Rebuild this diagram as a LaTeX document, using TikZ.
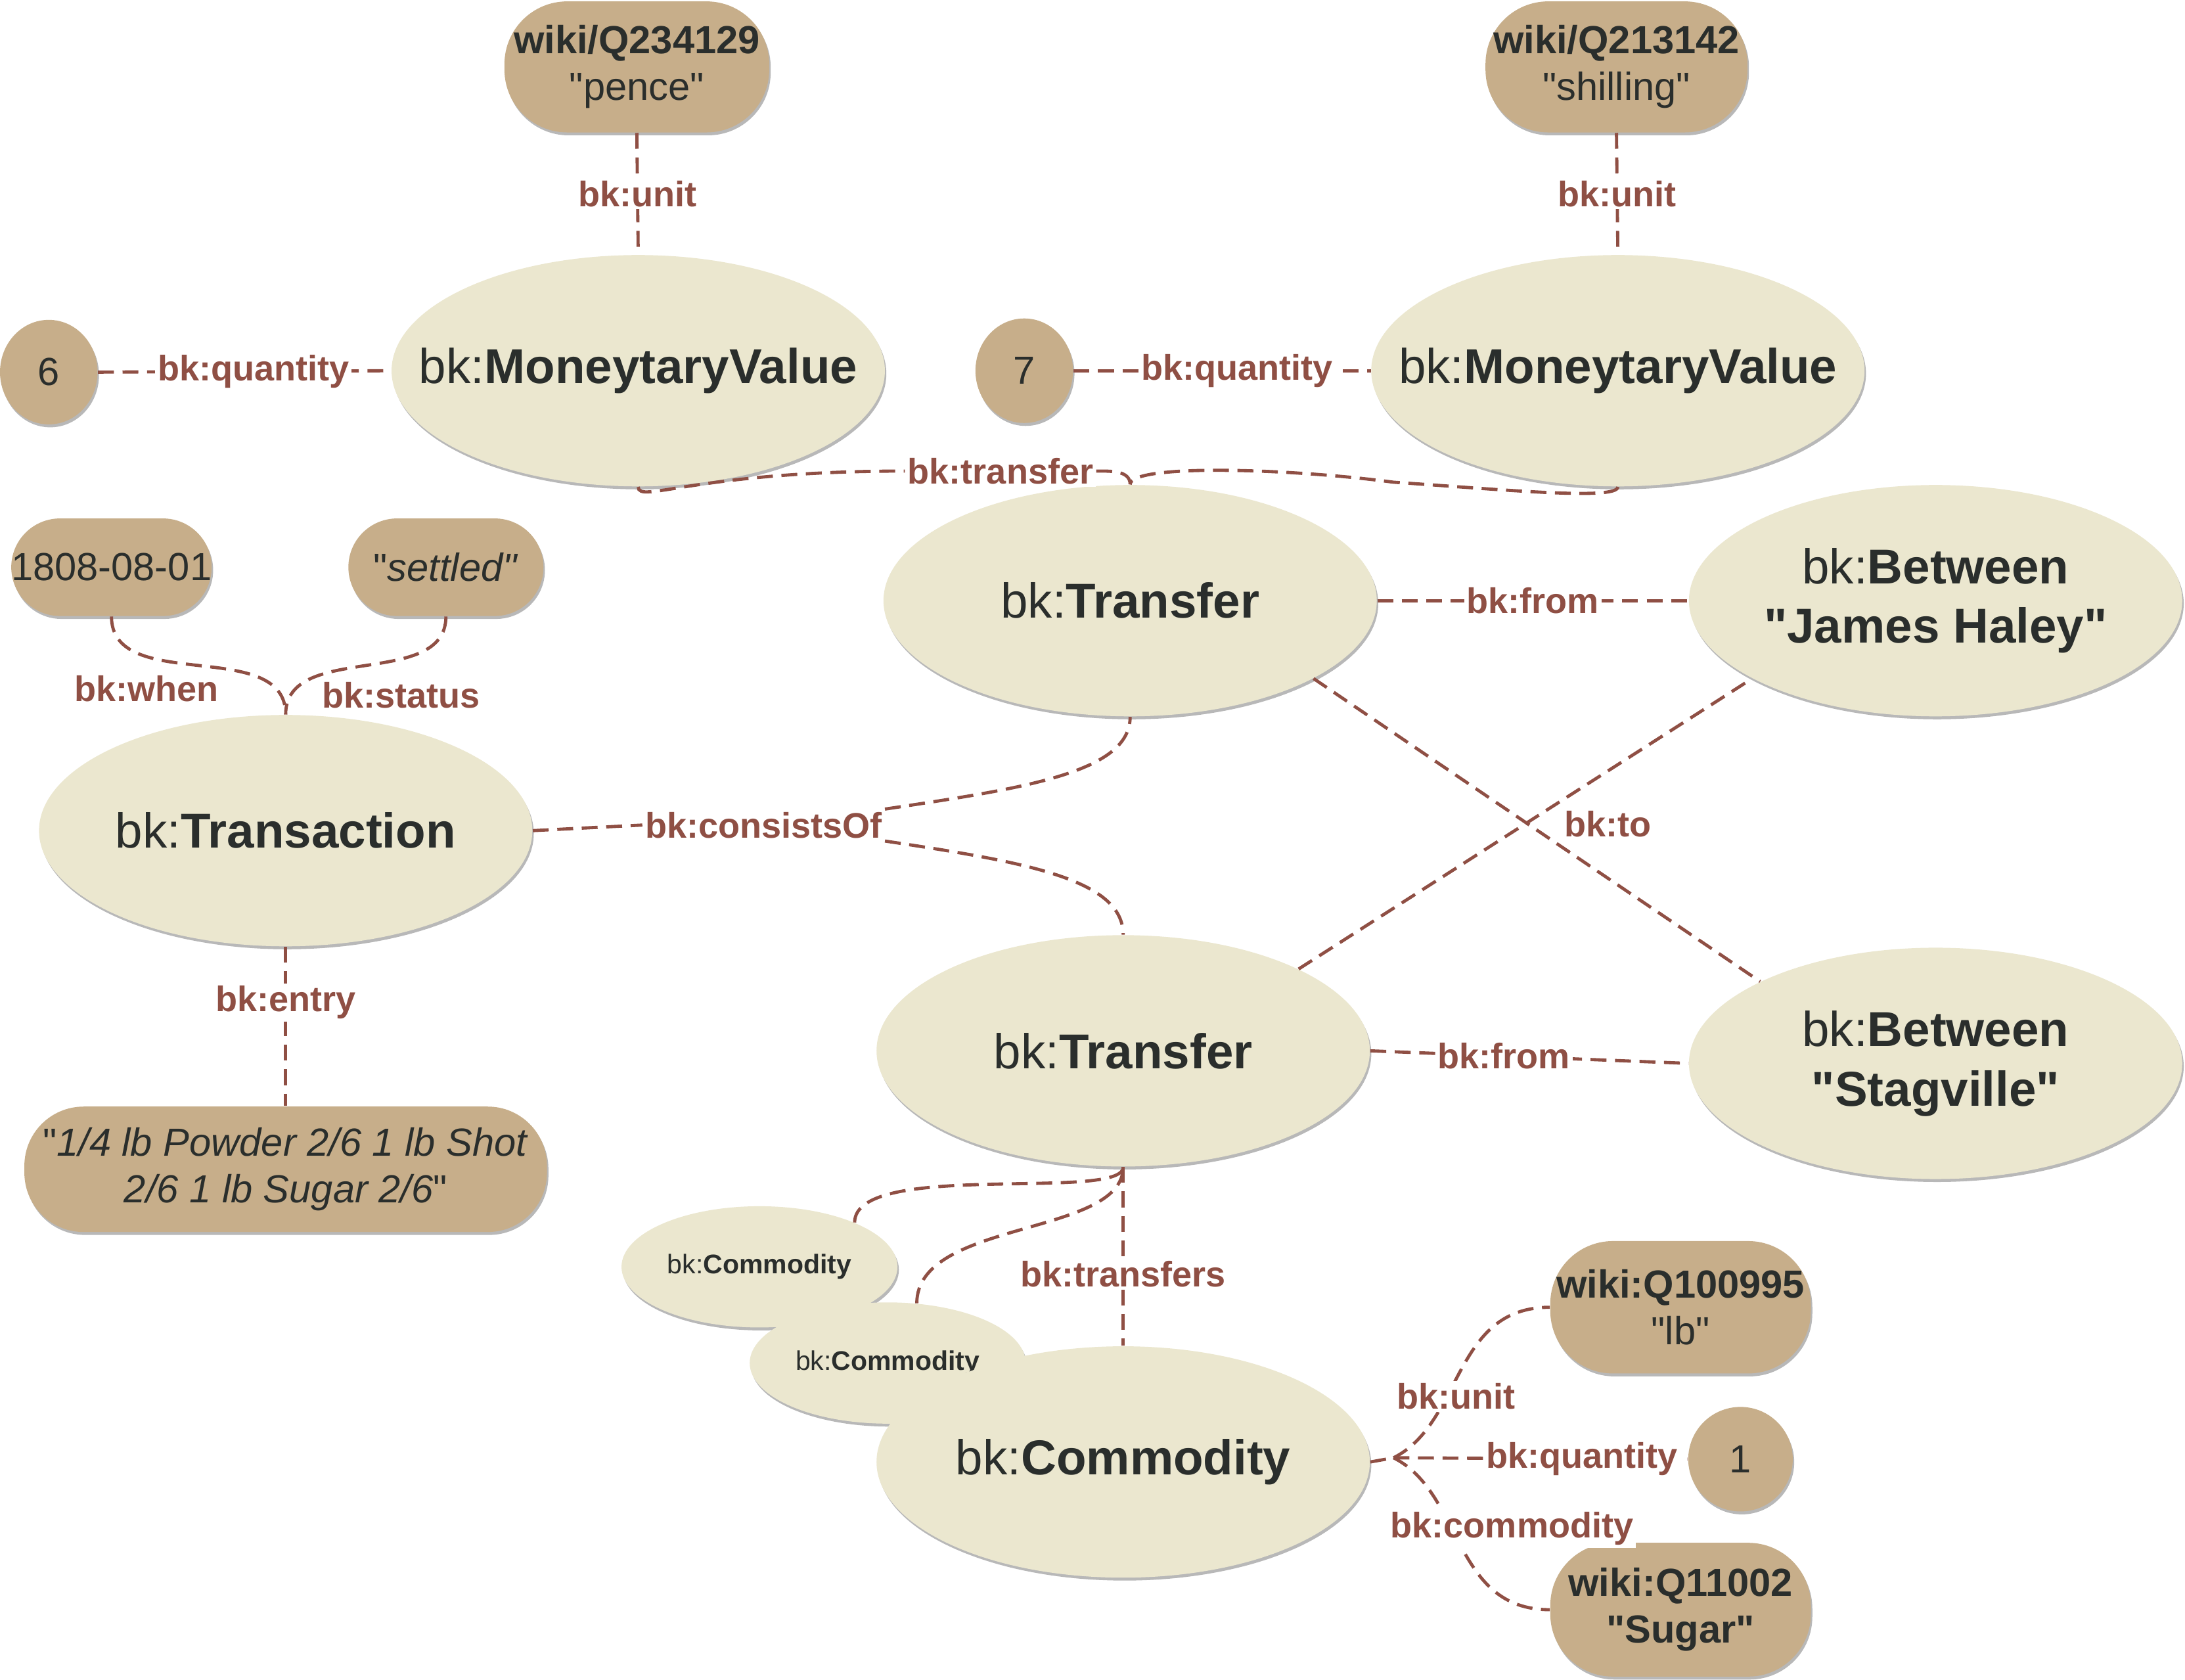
\documentclass[tikz,border=0pt]{standalone}
\usepackage{fontspec}
\setmainfont{Liberation Sans}
\usetikzlibrary{positioning, calc, shapes.geometric, shadows}
\definecolor{Cream}{HTML}{EBE7CF}
\definecolor{Sand}{HTML}{C7AE8A}
\definecolor{Rust}{HTML}{8F4F44}
\definecolor{Ink}{HTML}{2A2E2C}
\newcommand{\cls}[1]{bk:\textbf{#1}}
\newcommand{\dq}{\textquotedbl}
\tikzset{
    softshadow/.style={drop shadow={shadow xshift=0.6pt, shadow yshift=-1.2pt, fill=black!35, opacity=0.8}},
    classnode/.style={ellipse, fill=Cream, text=Ink, align=center, font=\fontsize{20}{24.4}\selectfont, inner xsep=-1cm, inner ysep=0pt, minimum width=7.08cm, minimum height=3.32cm, softshadow},
    smallclass/.style={classnode, font=\fontsize{11}{13}\selectfont, inner xsep=-0.2cm, minimum width=3.96cm, minimum height=1.74cm},
    valnode/.style={rectangle, rounded corners=0.9cm, fill=Sand, text=Ink, align=center, font=\fontsize{16}{19}\selectfont, inner sep=0pt, minimum width=3.76cm, minimum height=1.88cm, softshadow},
    numnode/.style={ellipse, fill=Sand, text=Ink, font=\fontsize{16}{19}\selectfont, inner sep=0pt, minimum width=1.4cm, minimum height=1.5cm, softshadow},
    link/.style={draw=Rust, line width=1.3pt, dash pattern=on 6.5pt off 3.5pt},
    prop/.style={fill=white, text=Rust, inner sep=1pt, font=\bfseries\fontsize{14.5}{16}\selectfont},
}
\begin{document}
\begin{tikzpicture}
    \useasboundingbox (0,0) rectangle (31.36,-24.1);

    % money
    \node[valnode, minimum width=3.8cm] (pence) at (9.14,-0.96) {\textbf{wiki/Q234129}\\\dq pence\dq};
    \node[valnode] (shilling) at (23.2,-0.96) {\textbf{wiki/Q213142}\\\dq shilling\dq};
    \node[classnode] (mvpence) at (9.16,-5.32) {\cls{MoneytaryValue}};
    \node[classnode] (mvshill) at (23.22,-5.32) {\cls{MoneytaryValue}};
    \node[numnode] (six) at (0.70,-5.34) {6};
    \node[numnode] (seven) at (14.70,-5.32) {7};

    % transfers
    \node[classnode] (xferA) at (16.22,-8.62) {\cls{Transfer}};
    \node[classnode] (haley) at (27.78,-8.62) {\cls{Between}\\\textbf{\dq James Haley\dq}};
    \node[classnode] (xferB) at (16.12,-15.08) {\cls{Transfer}};
    \node[classnode] (stag) at (27.78,-15.26) {\cls{Between}\\\textbf{\dq Stagville\dq}};

    % transaction
    \node[classnode] (txn) at (4.10,-11.92) {\cls{Transaction}};
    \node[valnode, minimum width=2.8cm, minimum height=1.4cm, rounded corners=0.7cm] (when) at (1.60,-8.14) {1808-08-01};
    \node[valnode, minimum width=2.8cm, minimum height=1.4cm, rounded corners=0.7cm] (settled) at (6.40,-8.14) {\dq\textit{settled\dq}};
    \node[valnode, minimum width=7.5cm, minimum height=1.8cm, rounded corners=0.85cm] (entry) at (4.10,-16.78)
        {\dq\textit{1/4 lb Powder 2/6 1 lb Shot}\\\textit{2/6 1 lb Sugar 2/6}\dq};

    % commodities
    \node[smallclass] (comA) at (10.90,-18.18) {\cls{Commodity}};
    \node[smallclass] (comB) at (12.74,-19.56) {\cls{Commodity}};
    \node[classnode] (sugarcom) at (16.12,-20.98) {\cls{Commodity}};
    \node[valnode, minimum width=3.74cm, minimum height=1.9cm] (lb) at (24.12,-18.76) {\textbf{wiki:Q100995}\\\dq lb\dq};
    \node[numnode, minimum width=1.5cm] (one) at (24.98,-20.94) {1};
    \node[valnode, minimum width=3.74cm, minimum height=1.92cm] (sugar) at (24.12,-23.10) {\textbf{wiki:Q11002}\\\textbf{\dq Sugar\dq}};

    % edges: money
    \draw[link] (pence.south) -- node[prop] (unitP) {bk:unit} (mvpence.north);
    \draw[link] (shilling.south) -- node[prop] (unitS) {bk:unit} (mvshill.north);
    \draw[link] (six.east) -- node[prop, pos=0.53] (qtyA) {bk:quantity} (mvpence.west);
    \draw[link] (seven.east) -- node[prop, pos=0.55] (qtyB) {bk:quantity} (mvshill.west);

    \node[prop] (xferlbl) at (14.36,-6.76) {bk:transfer};
    \coordinate (xferbend) at (20.0,-6.92);
    \draw[link] (mvpence.south) .. controls +(0,-0.25) and +(-3,0) .. (xferlbl.west);
    \draw[link] (xferlbl.east) to[out=0,in=90] (xferA.north);
    \draw[link] (mvshill.south) .. controls +(0,-0.2) and +(1.5,-0.1) .. (xferbend)
        .. controls +(-1.5,0.2) and +(0,0.3) .. (xferA.north);

    % edges: transfers
    \draw[link] (xferA.east) -- node[prop] (fromA) {bk:from} (haley.west);
    \draw[link] (xferB.east) -- node[prop, pos=0.42] (fromB) {bk:from} (stag.west);
    \draw[link] (xferA.-23) -- (stag.155);
    \draw[link] (xferB.25) -- node[prop, pos=0.5, anchor=west, xshift=0.5cm] (toB) {bk:to} (haley.-157);

    % edges: transaction
    \node[prop] (cons) at (10.96,-11.84) {bk:consistsOf};
    \draw[link] (txn.east) -- (cons.west);
    \draw[link] (cons.north east) .. controls +(2.0,0.3) and +(0,-0.8) .. (xferA.south);
    \draw[link] (cons.south east) .. controls +(2.0,-0.3) and +(0,0.8) .. (xferB.north);
    \draw[link] (when.south) to[out=-90,in=90] (txn.north);
    \draw[link] (settled.south) to[out=-90,in=90] (txn.north);
    \node[prop] (whenlbl) at (2.10,-9.88) {bk:when};
    \node[prop] (statuslbl) at (5.76,-9.98) {bk:status};
    \draw[link] (txn.south) -- node[prop, pos=0.35] (entrylbl) {bk:entry} (entry.north);

    % edges: commodities
    \draw[link] (xferB.south) -- node[prop, pos=0.6] (xfers) {bk:transfers} (sugarcom.north);
    \draw[link] (comA.25) .. controls +(0,0.9) and +(0,-0.5) .. (xferB.south);
    \draw[link] (comB.64) .. controls +(0,1.2) and +(0,-1.0) .. (xferB.south);
    \coordinate (cjoin) at (20.0,-20.92);
    \draw[link] (sugarcom.east) -- (cjoin);
    \draw[link] (cjoin) .. controls +(1.0,0.5) and +(-1.4,0) .. (lb.west);
    \draw[link] (cjoin) .. controls +(1.0,-0.5) and +(-1.4,0) .. (sugar.west);
    \draw[link] (cjoin) -- node[prop, pos=0.64] (qtyC) {bk:quantity} (one.west);
    \node[prop] (unitC) at (20.90,-20.04) {bk:unit};
    \node[prop] (commlbl) at (21.70,-21.94) {bk:commodity};
\end{tikzpicture}
\end{document}
